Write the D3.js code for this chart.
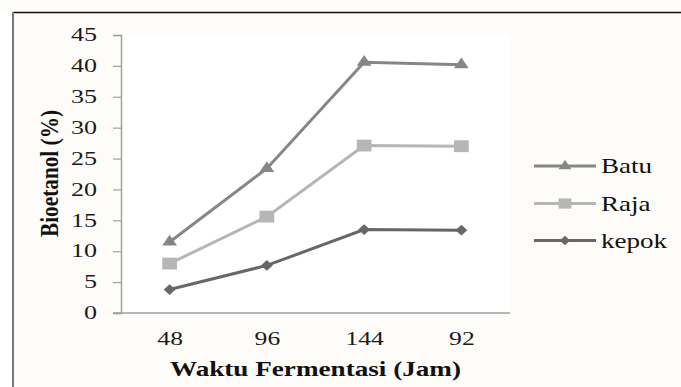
<!DOCTYPE html>
<html>
<head>
<meta charset="utf-8">
<script src="https://cdn.jsdelivr.net/npm/d3@7"></script>
<style>
  html, body { margin: 0; padding: 0; background: #ffffff; }
  svg { display: block; }
</style>
</head>
<body>
<svg id="chart" width="681" height="387"></svg>
<script>
// Fermentation time labels (hours), in the order they appear on the axis
const categories = ["48", "96", "144", "92"];

// Bioethanol yield (%) for each banana variety
const batu  = [11.5, 23.4, 40.6, 40.2];
const raja  = [8.0, 15.6, 27.1, 27.0];
const kepok = [3.8, 7.7, 13.5, 13.4];

const seriesNames = ["Batu", "Raja", "kepok"];
const yTicks = [0, 5, 10, 15, 20, 25, 30, 35, 40, 45];

// Marker shapes; the whole figure is set in a horizontally widened typeface,
// so marks and labels get a horizontal stretch factor.
const diamond = {
  draw(ctx, size) {
    const r = Math.sqrt(size) / 2;
    ctx.moveTo(0, -r); ctx.lineTo(r, 0); ctx.lineTo(0, r); ctx.lineTo(-r, 0); ctx.closePath();
  }
};

const series = [
  { name: seriesNames[0], values: batu,  color: "#868686", shape: d3.symbolTriangle, size: 68,  sx: 1.18 },
  { name: seriesNames[1], values: raja,  color: "#b6b6b6", shape: d3.symbolSquare,   size: 140, sx: 1.25 },
  { name: seriesNames[2], values: kepok, color: "#676767", shape: diamond,           size: 115, sx: 1.1 }
];

const svg = d3.select("#chart");
const W = 681, H = 387;
const font = "'Liberation Serif', 'Times New Roman', serif";

// Page background and frame
svg.append("rect").attr("x", 0).attr("y", 0).attr("width", W).attr("height", H).attr("fill", "#ffffff");
svg.append("rect").attr("x", 13).attr("y", 0).attr("width", W - 13).attr("height", H).attr("fill", "#fdfcf8");
svg.append("rect").attr("x", 0).attr("y", 0).attr("width", W).attr("height", 12).attr("fill", "#fdfcf8");
svg.append("line").attr("x1", 13).attr("x2", W).attr("y1", 12.5).attr("y2", 12.5)
  .attr("stroke", "#111").attr("stroke-width", 1.3);
svg.append("line").attr("x1", 13).attr("x2", 13).attr("y1", 12).attr("y2", H)
  .attr("stroke", "#7a7a7a").attr("stroke-width", 2);

const plot = { left: 121, right: 510, top: 35, bottom: 313 };

// White plot area
svg.append("rect")
  .attr("x", plot.left).attr("y", plot.top)
  .attr("width", plot.right - plot.left).attr("height", plot.bottom - plot.top)
  .attr("fill", "#ffffff");

const x = d3.scalePoint().domain(categories).range([plot.left, plot.right]).padding(0.5);
const y = d3.scaleLinear().domain([0, 45]).range([plot.bottom, plot.top]);

// Y axis
const tickStretch = 1.45;
const yAxis = svg.append("g")
  .attr("transform", `translate(${plot.left},0)`)
  .call(d3.axisLeft(y).tickValues(yTicks).tickSize(8).tickPadding(24).tickFormat(d3.format("d")));
yAxis.select(".domain").attr("stroke", "#a0a0a0").attr("stroke-width", 1.5);
yAxis.selectAll(".tick line").attr("stroke", "#a0a0a0").attr("stroke-width", 1.2);
yAxis.selectAll(".tick text")
  .attr("fill", "#1a1a1a")
  .attr("x", -24 / tickStretch)
  .attr("transform", `scale(${tickStretch},1)`)
  .style("font-family", font).style("font-size", "18px");

// X axis (baseline only, no ticks)
const xStretch = 1.35;
const xAxis = svg.append("g")
  .attr("transform", `translate(0,${plot.bottom})`)
  .call(d3.axisBottom(x).tickSize(0).tickPadding(18).tickSizeOuter(0));
xAxis.select(".domain").attr("stroke", "#a0a0a0").attr("stroke-width", 1.5)
  .attr("d", `M${plot.left - 8},0H${plot.right}`);
xAxis.selectAll(".tick text")
  .attr("fill", "#1a1a1a")
  .attr("y", 0).attr("dy", 0)
  .attr("transform", `translate(0,32) scale(${xStretch},1)`)
  .style("font-family", font).style("font-size", "19px");

// Axis titles
svg.append("text")
  .attr("x", 315.5).attr("y", 376)
  .attr("text-anchor", "middle")
  .attr("textLength", 291).attr("lengthAdjust", "spacingAndGlyphs")
  .style("font-family", font).style("font-size", "21px").style("font-weight", "bold")
  .attr("fill", "#111")
  .text("Waktu Fermentasi (Jam)");

svg.append("text")
  .attr("transform", "translate(57.5,173.5) scale(1.3,1) rotate(-90)")
  .attr("text-anchor", "middle")
  .attr("textLength", 127).attr("lengthAdjust", "spacingAndGlyphs")
  .style("font-family", font).style("font-size", "19px").style("font-weight", "bold")
  .attr("fill", "#111")
  .text("Bioetanol (%)");

// Lines and markers
const line = d3.line().x((d, i) => x(categories[i])).y(d => y(d));

series.forEach(s => {
  svg.append("path")
    .datum(s.values)
    .attr("d", line)
    .attr("fill", "none")
    .attr("stroke", s.color)
    .attr("stroke-width", 3);

  svg.selectAll(null)
    .data(s.values)
    .enter()
    .append("path")
    .attr("transform", (d, i) => `translate(${x(categories[i])},${y(d)}) scale(${s.sx},1)`)
    .attr("d", d3.symbol().type(s.shape).size(s.size))
    .attr("fill", s.color);
});

// Legend
const legend = svg.append("g");
const legendY = [166, 203.5, 240.5];
const legendStretch = 1.23;
series.forEach((s, i) => {
  const g = legend.append("g").attr("transform", `translate(0,${legendY[i]})`);
  g.append("line").attr("x1", 534).attr("x2", 596).attr("y1", 0).attr("y2", 0)
    .attr("stroke", s.color).attr("stroke-width", 3);
  g.append("path").attr("transform", `translate(565,0) scale(${s.sx},1)`)
    .attr("d", d3.symbol().type(s.shape).size(s.size * 0.75))
    .attr("fill", s.color);
  g.append("text")
    .attr("transform", `translate(601,7) scale(${legendStretch},1)`)
    .style("font-family", font).style("font-size", "22px")
    .attr("fill", "#111")
    .text(s.name);
});
</script>
</body>
</html>
